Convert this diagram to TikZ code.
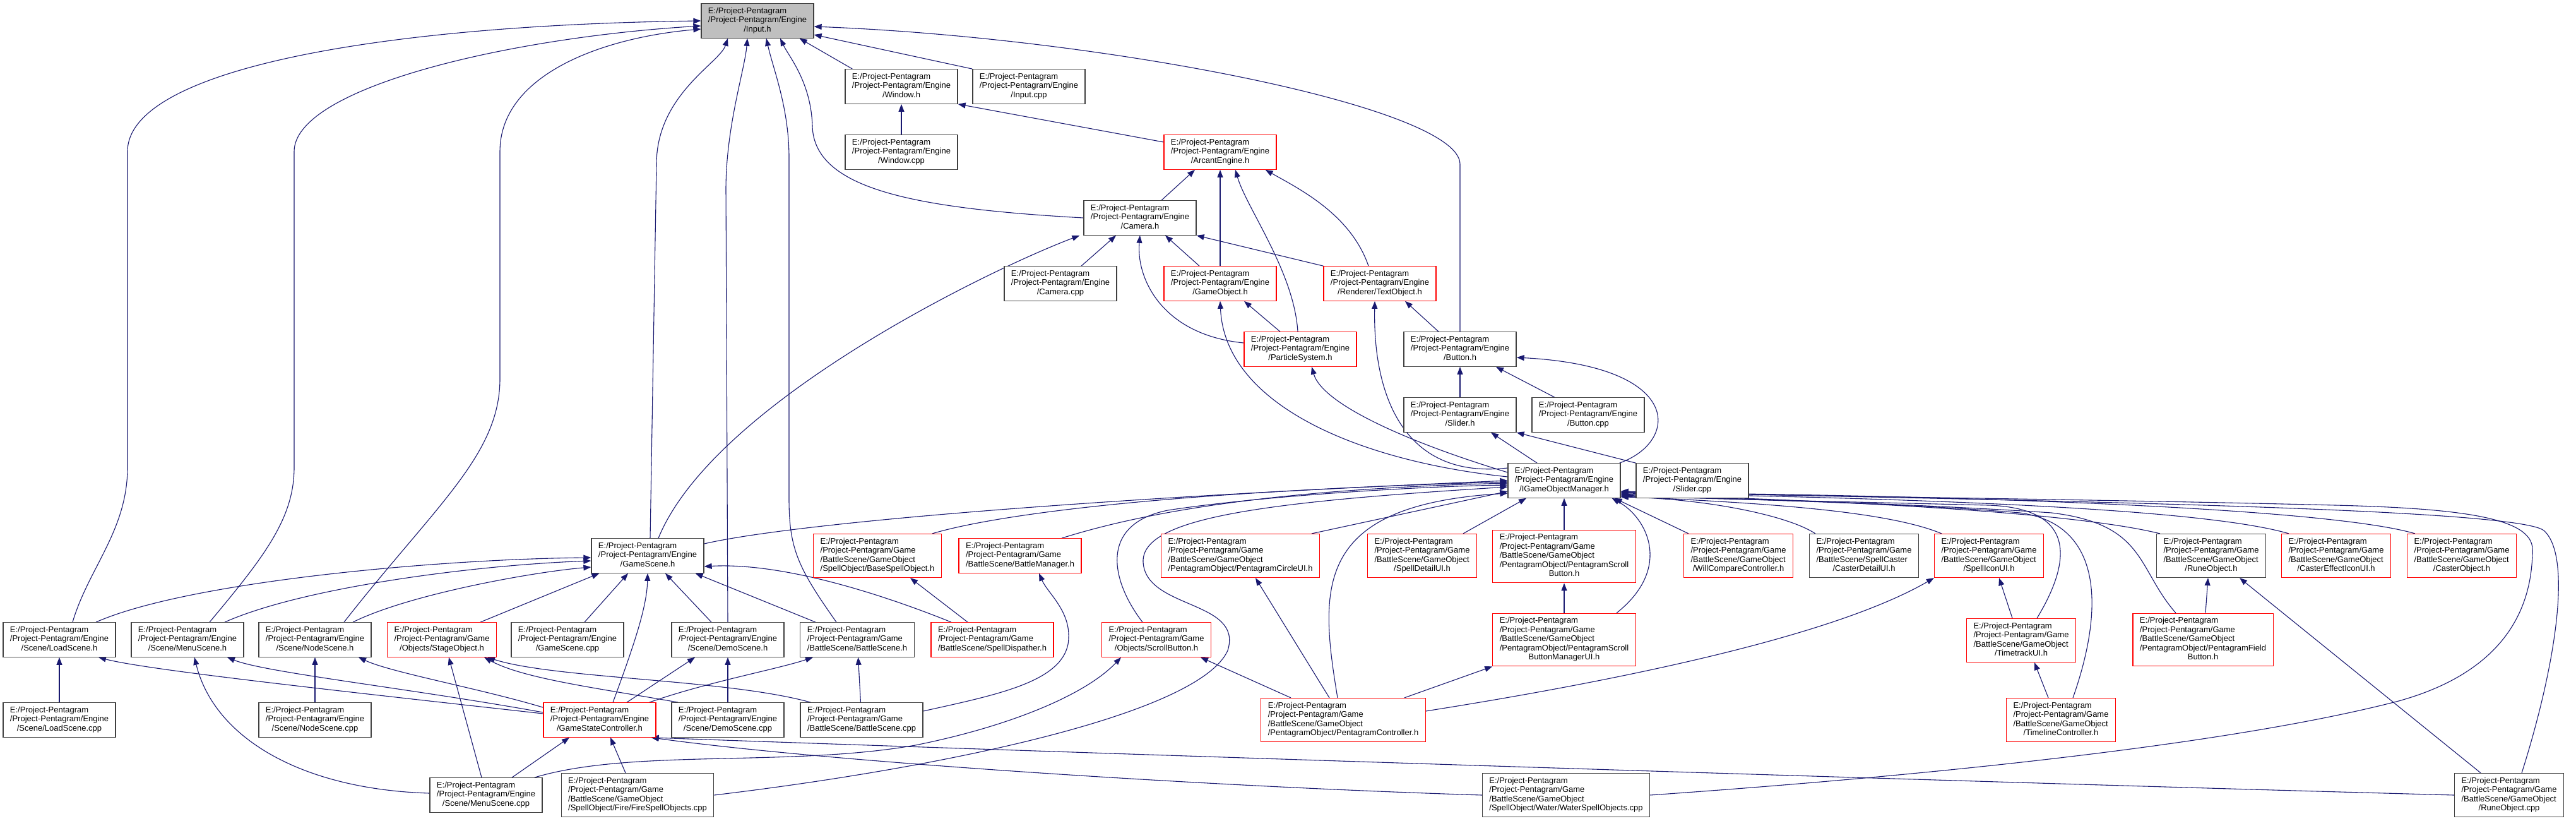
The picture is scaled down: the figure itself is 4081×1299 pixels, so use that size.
\documentclass[tikz,border=0pt]{standalone}
\usepackage{fontspec}
\setmainfont{Liberation Sans}
\usepackage{tikz}
\usetikzlibrary{arrows.meta, calc, backgrounds}
\definecolor{depblue}{RGB}{25,25,112}
\definecolor{boxred}{RGB}{255,0,0}
\definecolor{boxgray}{RGB}{191,191,191}
\definecolor{boxedge}{RGB}{64,64,64}
\newcommand{\boxfont}{\fontsize{13}{14.5}\selectfont}
\newcommand{\fpath}[2]{\begin{tabular}{@{}l@{}}#1\\\multicolumn{1}{@{}c@{}}{#2}\end{tabular}}
\newcommand{\enginefile}[1]{\fpath{E:/Project-Pentagram\\/Project-Pentagram/Engine}{#1}}
\newcommand{\gamefile}[2]{\fpath{E:/Project-Pentagram\\/Project-Pentagram/Game#1}{#2}}

\begin{document}
\begin{tikzpicture}[x=1pt, y=-1pt,
    file/.style={draw=boxedge, line width=1.2pt, fill=white, inner xsep=11pt, inner ysep=5.5pt, font=\boxfont},
    redfile/.style={file, draw=boxred},
    curfile/.style={file, fill=boxgray},
    dep/.style={draw=depblue, line width=1.1pt, -{Triangle[length=12pt,width=9pt]}}]
  \useasboundingbox (0,0) rectangle (4081,1299);

  % Engine files
  \node[curfile] (input) at (1200,33) {\enginefile{/Input.h}};
  \node[file] (window) at (1428,137) {\enginefile{/Window.h}};
  \node[file] (inputcpp) at (1630,137) {\enginefile{/Input.cpp}};
  \node[file] (windowcpp) at (1428,241) {\enginefile{/Window.cpp}};
  \node[redfile] (arcant) at (1933,241) {\enginefile{/ArcantEngine.h}};
  \node[file] (camera) at (1806,345) {\enginefile{/Camera.h}};
  \node[file] (cameracpp) at (1680,449) {\enginefile{/Camera.cpp}};
  \node[redfile] (gameobj) at (1933,449) {\enginefile{/GameObject.h}};
  \node[redfile] (textobj) at (2186,449) {\enginefile{/Renderer/TextObject.h}};
  \node[redfile] (particle) at (2060,553) {\enginefile{/ParticleSystem.h}};
  \node[file] (button) at (2313,553) {\enginefile{/Button.h}};
  \node[file] (slider) at (2313,657) {\enginefile{/Slider.h}};
  \node[file] (buttoncpp) at (2516,657) {\enginefile{/Button.cpp}};
  \node[file] (gom) at (2478,761) {\enginefile{/IGameObjectManager.h}};
  \node[file] (slidercpp) at (2681,761) {\enginefile{/Slider.cpp}};

  % Row of game headers
  \node[file] (gamescene) at (1026,880) {\enginefile{/GameScene.h}};
  \node[redfile] (basespell) at (1390,880) {\gamefile{\\/BattleScene/GameObject}{/SpellObject/BaseSpellObject.h}};
  \node[redfile] (battlemgr) at (1616,880) {\gamefile{}{/BattleScene/BattleManager.h}};
  \node[redfile] (circleui) at (1965,880) {\gamefile{\\/BattleScene/GameObject}{/PentagramObject/PentagramCircleUI.h}};
  \node[redfile] (spelldetail) at (2253,880) {\gamefile{\\/BattleScene/GameObject}{/SpellDetailUI.h}};
  \node[redfile] (scrollbtn) at (2478,881) {\gamefile{\\/BattleScene/GameObject\\/PentagramObject/PentagramScroll}{Button.h}};
  \node[redfile] (willcmp) at (2754,880) {\gamefile{\\/BattleScene/GameObject}{/WillCompareController.h}};
  \node[file] (casterdetail) at (2953,880) {\gamefile{\\/BattleScene/SpellCaster}{/CasterDetailUI.h}};
  \node[redfile] (spellicon) at (3151,880) {\gamefile{\\/BattleScene/GameObject}{/SpellIconUI.h}};
  \node[file] (runeobj) at (3503,880) {\gamefile{\\/BattleScene/GameObject}{/RuneObject.h}};
  \node[redfile] (castereffect) at (3701,880) {\gamefile{\\/BattleScene/GameObject}{/CasterEffectIconUI.h}};
  \node[redfile] (casterobj) at (3900,880) {\gamefile{\\/BattleScene/GameObject}{/CasterObject.h}};

  % Scenes
  \node[file] (loadscene) at (94,1013) {\enginefile{/Scene/LoadScene.h}};
  \node[file] (menuscene) at (297,1013) {\enginefile{/Scene/MenuScene.h}};
  \node[file] (nodescene) at (499,1013) {\enginefile{/Scene/NodeScene.h}};
  \node[redfile] (stageobj) at (700,1013) {\gamefile{}{/Objects/StageObject.h}};
  \node[file] (gamescenecpp) at (899,1013) {\enginefile{/GameScene.cpp}};
  \node[file] (demoscene) at (1153,1013) {\enginefile{/Scene/DemoScene.h}};
  \node[file] (battlescene) at (1358,1013) {\gamefile{}{/BattleScene/BattleScene.h}};
  \node[redfile] (spelldisp) at (1572,1013) {\gamefile{}{/BattleScene/SpellDispather.h}};
  \node[redfile] (scrollbutton) at (1832,1013) {\gamefile{}{/Objects/ScrollButton.h}};
  \node[redfile] (scrollmgr) at (2478,1013) {\gamefile{\\/BattleScene/GameObject\\/PentagramObject/PentagramScroll}{ButtonManagerUI.h}};
  \node[redfile] (timetrack) at (3202,1014) {\gamefile{\\/BattleScene/GameObject}{/TimetrackUI.h}};
  \node[redfile] (fieldbtn) at (3490,1013) {\gamefile{\\/BattleScene/GameObject\\/PentagramObject/PentagramField}{Button.h}};

  \node[file] (loadscenecpp) at (94,1140) {\enginefile{/Scene/LoadScene.cpp}};
  \node[file] (nodescenecpp) at (499,1140) {\enginefile{/Scene/NodeScene.cpp}};
  \node[redfile] (gsc) at (950,1140) {\enginefile{/GameStateController.h}};
  \node[file] (demoscenecpp) at (1153,1140) {\enginefile{/Scene/DemoScene.cpp}};
  \node[file] (battlescenecpp) at (1365,1140) {\gamefile{}{/BattleScene/BattleScene.cpp}};
  \node[redfile] (pentactrl) at (2128,1140) {\gamefile{\\/BattleScene/GameObject}{/PentagramObject/PentagramController.h}};
  \node[redfile] (timeline) at (3265,1140) {\gamefile{\\/BattleScene/GameObject}{/TimelineController.h}};

  % Bottom row
  \node[file] (menuscenecpp) at (770,1259) {\enginefile{/Scene/MenuScene.cpp}};
  \node[file] (firespell) at (1010,1259) {\gamefile{\\/BattleScene/GameObject}{/SpellObject/Fire/FireSpellObjects.cpp}};
  \node[file] (waterspell) at (2481,1259) {\gamefile{\\/BattleScene/GameObject}{/SpellObject/Water/WaterSpellObjects.cpp}};
  \node[file] (runeobjcpp) at (3975,1259) {\gamefile{\\/BattleScene/GameObject}{/RuneObject.cpp}};

  \begin{scope}[on background layer]
  % Input.h
  \draw[dep] ($(loadscene.north)+(21,0)$) .. controls (140,900) and (202,840) .. (202,740) -- (202,240) .. controls (202,110) and (600,40) .. (input.west);
  \draw[dep] ($(menuscene.north)+(35,0)$) .. controls (420,880) and (466,820) .. (466,740) -- (466,240) .. controls (466,140) and (800,60) .. ($(input.west)+(0,8)$);
  \draw[dep] ($(nodescene.north)+(46,0)$) .. controls (690,800) and (792,720) .. (792,600) -- (792,240) .. controls (792,120) and (950,60) .. ($(input.west)+(0,13)$);
  \draw[dep] ($(gamescene.north)+(4,0)$) -- (1040,260) .. controls (1040,150) and (1140,100) .. ($(input.south)+(-47,0)$);
  \draw[dep] (demoscene.north) -- (1150,300) .. controls (1150,200) and (1180,110) .. ($(input.south)+(-16,0)$);
  \draw[dep] ($(battlescene.north)+(-33,0)$) .. controls (1265,900) and (1250,870) .. (1250,790) -- (1250,250) .. controls (1250,170) and (1225,110) .. ($(input.south)+(14,0)$);
  \draw[dep] (camera.west) .. controls (1450,330) and (1290,300) .. (1287,200) .. controls (1285,130) and (1250,90) .. ($(input.south)+(36,0)$);
  \draw[dep] ($(window.north west)+(12,0)$) -- ($(input.south east)+(-23,0)$);
  \draw[dep] (inputcpp.north west) -- ($(input.east)+(0,22)$);
  \draw[dep] (button.north) -- (2313,260) .. controls (2313,170) and (1750,60) .. ($(input.east)+(0,9)$);

  % Window.h, ArcantEngine.h
  \draw[dep] (windowcpp) -- (window);
  \draw[dep] ($(arcant.west)+(0,-16)$) -- (window.south east);
  \draw[dep] ($(camera.north)+(34,0)$) -- ($(arcant.south)+(-40,0)$);
  \draw[dep] (gameobj) -- (arcant);
  \draw[dep] ($(particle.north)+(-4,0)$) .. controls (2050,430) and (1975,330) .. ($(arcant.south)+(24,0)$);
  \draw[dep] ($(textobj.north)+(-18,0)$) .. controls (2140,340) and (2060,300) .. ($(arcant.south east)+(-18,0)$);

  % Camera.h
  \draw[dep] ($(cameracpp.north)+(33,0)$) -- ($(camera.south)+(-38,0)$);
  \draw[dep] ($(gameobj.north)+(-33,0)$) -- ($(camera.south)+(40,0)$);
  \draw[dep] (textobj.north west) -- (camera.south east);
  \draw[dep] ($(particle.west)+(0,-10)$) .. controls (1840,530) and (1800,440) .. (camera.south);
  \draw[dep] ($(gamescene.north)+(17,0)$) .. controls (1130,640) and (1560,430) .. ($(camera.south west)+(-6,0)$);

  % GameObject.h, ParticleSystem.h, TextObject.h
  \draw[dep] ($(particle.north)+(-32,0)$) -- ($(gameobj.south)+(38,0)$);
  \draw[dep] ($(gom.west)+(0,-6)$) .. controls (2150,730) and (1940,640) .. (gameobj.south);
  \draw[dep] ($(gom.west)+(0,-13)$) .. controls (2230,700) and (2095,640) .. ($(particle.south)+(18,0)$);
  \draw[dep] ($(gom.west)+(0,-20)$) .. controls (2220,760) and (2175,620) .. ($(textobj.south)+(-8,0)$);

  % Button.h, Slider.h
  \draw[dep] ($(button.north)+(-34,0)$) -- ($(textobj.south)+(40,0)$);
  \draw[dep] (slider) -- (button);
  \draw[dep] ($(buttoncpp.north)+(-53,0)$) -- ($(button.south)+(57,0)$);
  \draw[dep] ($(gom.north east)+(-2,0)$) .. controls (2660,700) and (2670,580) .. ($(button.east)+(0,13)$);
  \draw[dep] ($(gom.north)+(-43,0)$) -- ($(slider.south)+(49,0)$);
  \draw[dep] (slidercpp.north west) -- (slider.south east);

  % GameScene.h
  \draw[dep] ($(loadscene.north)+(58,0)$) .. controls (300,920) and (700,885) .. ($(gamescene.west)+(0,3)$);
  \draw[dep] ($(menuscene.north)+(59,0)$) .. controls (480,930) and (750,895) .. ($(gamescene.west)+(0,8)$);
  \draw[dep] ($(nodescene.north)+(60,0)$) .. controls (650,940) and (850,905) .. ($(gamescene.west)+(0,18)$);
  \draw[dep] ($(stageobj.north)+(61,0)$) -- ($(gamescene.south west)+(13,0)$);
  \draw[dep] ($(gamescenecpp.north)+(27,0)$) -- ($(gamescene.south)+(-31,0)$);
  \draw[dep] ($(demoscene.north)+(-26,0)$) -- ($(gamescene.south)+(28,0)$);
  \draw[dep] ($(battlescene.north)+(-66,0)$) -- ($(gamescene.south east)+(-14,0)$);
  \draw[dep] ($(gsc.north)+(21,0)$) .. controls (1005,1020) and (1025,960) .. (gamescene.south);
  \draw[dep] ($(spelldisp.north)+(-65,0)$) .. controls (1420,950) and (1250,890) .. ($(gamescene.east)+(0,17)$);

  % IGameObjectManager.h, left side
  \draw[dep] ($(gamescene.east)+(0,-19)$) .. controls (1250,830) and (1700,790) .. (gom.west);
  \draw[dep] ($(basespell.north)+(87,0)$) .. controls (1560,820) and (1800,780) .. ($(gom.west)+(0,2)$);
  \draw[dep] ($(battlemgr.north)+(66,0)$) .. controls (1800,815) and (2000,775) .. ($(gom.west)+(0,4)$);
  \draw[dep] ($(scrollbutton.north)+(-22,0)$) .. controls (1760,920) and (1740,830) .. (1850,808) .. controls (2000,785) and (2250,770) .. ($(gom.west)+(0,7)$);
  \draw[dep] (firespell.east) .. controls (1500,1215) and (1900,1130) .. (1945,1030) .. controls (1970,950) and (1815,965) .. (1811,890) .. controls (1808,820) and (2000,795) .. ($(gom.west)+(0,10)$);
  \draw[dep] ($(circleui.north)+(113,0)$) -- ($(gom.west)+(0,17)$);
  \draw[dep] ($(pentactrl.north)+(-9,0)$) .. controls (2090,930) and (2080,800) .. ($(gom.west)+(0,20)$);
  \draw[dep] ($(spelldetail.north)+(65,0)$) -- ($(gom.south)+(-60,0)$);
  \draw[dep] (scrollbtn) -- (gom);
  \draw[dep] ($(scrollmgr.north)+(83,0)$) .. controls (2650,900) and (2610,820) .. ($(gom.south east)+(-14,0)$);
  \draw[dep] ($(willcmp.north west)+(8,0)$) -- ($(gom.south east)+(-10,0)$);

  % IGameObjectManager.h, right side
  \draw[dep] ($(casterdetail.north west)+(10,0)$) .. controls (2830,815) and (2700,790) .. ($(gom.south east)+(0,-2)$);
  \draw[dep] ($(spellicon.north west)+(12,0)$) .. controls (2980,805) and (2750,795) .. ($(gom.south east)+(0,-3)$);
  \draw[dep] ($(timetrack.north)+(25,0)$) .. controls (3275,900) and (3300,805) .. (3150,800) .. controls (2950,795) and (2700,790) .. ($(gom.south east)+(0,-4)$);
  \draw[dep] ($(timeline.north)+(19,0)$) .. controls (3335,960) and (3330,830) .. (3200,812) .. controls (3000,795) and (2700,790) .. ($(gom.south east)+(0,-5)$);
  \draw[dep] ($(runeobj.north west)+(6,0)$) .. controls (3300,815) and (3000,795) .. ($(gom.south east)+(0,-6)$);
  \draw[dep] ($(fieldbtn.north)+(-43,0)$) .. controls (3385,900) and (3400,830) .. (3250,812) .. controls (3000,795) and (2700,790) .. ($(gom.south east)+(0,-7)$);
  \draw[dep] ($(castereffect.north west)+(12,0)$) .. controls (3500,808) and (3100,790) .. ($(gom.south east)+(0,-8)$);
  \draw[dep] ($(casterobj.north west)+(13,0)$) .. controls (3700,808) and (3200,785) .. ($(gom.south east)+(0,-9)$);
  \draw[dep] (waterspell.east) .. controls (3100,1225) and (3550,1175) .. (3800,1110) .. controls (3980,1060) and (4012,950) .. (4012,870) .. controls (4012,820) and (3900,805) .. (3700,800) .. controls (3300,790) and (2800,785) .. ($(gom.south east)+(0,-10)$);
  \draw[dep] ($(runeobjcpp.north)+(20,0)$) .. controls (4050,1050) and (4075,880) .. (4030,840) .. controls (3980,800) and (3000,790) .. ($(gom.south east)+(0,-11)$);

  % Game headers
  \draw[dep] ($(spelldisp.north)+(-39,0)$) -- ($(basespell.south)+(52,0)$);
  \draw[dep] ($(battlescenecpp.east)+(0,-14)$) .. controls (1580,1100) and (1680,1080) .. (1692,1020) .. controls (1700,970) and (1660,940) .. ($(battlemgr.south)+(30,0)$);
  \draw[dep] (battlescenecpp) -- (battlescene);
  \draw[dep] ($(battlescenecpp.north west)+(17,0)$) .. controls (1150,1075) and (880,1075) .. ($(stageobj.south east)+(-15,0)$);
  \draw[dep] ($(demoscenecpp.north west)+(11,0)$) .. controls (950,1090) and (830,1075) .. ($(stageobj.south east)+(-20,0)$);
  \draw[dep] ($(menuscenecpp.north)+(-7,0)$) -- ($(stageobj.south)+(11,0)$);
  \draw[dep] ($(menuscenecpp.west)+(0,-3)$) .. controls (480,1250) and (340,1170) .. ($(menuscene.south)+(11,0)$);
  \draw[dep] ($(menuscenecpp.north)+(41,0)$) -- ($(gsc.south)+(-48,0)$);
  \draw[dep] ($(menuscenecpp.north east)+(-13,0)$) .. controls (1000,1185) and (1250,1215) .. (1450,1180) .. controls (1600,1150) and (1720,1100) .. ($(scrollbutton.south)+(-56,0)$);
  \draw[dep] ($(firespell.north)+(-19,0)$) -- ($(gsc.south)+(17,0)$);
  \draw[dep] (waterspell.west) .. controls (1900,1245) and (1300,1205) .. ($(gsc.south east)+(-8,0)$);
  \draw[dep] (runeobjcpp.west) .. controls (3000,1235) and (1500,1185) .. ($(gsc.south east)+(-8,0)$);

  % GameStateController.h
  \draw[dep] ($(gsc.west)+(0,-10)$) .. controls (500,1090) and (230,1060) .. ($(loadscene.south)+(62,0)$);
  \draw[dep] ($(gsc.west)+(0,-12)$) .. controls (650,1090) and (420,1065) .. ($(menuscene.south)+(63,0)$);
  \draw[dep] ($(gsc.north west)+(0,8)$) .. controls (760,1090) and (620,1065) .. ($(nodescene.south)+(69,0)$);
  \draw[dep] ($(gsc.north)+(43,0)$) -- ($(demoscene.south)+(-52,0)$);
  \draw[dep] ($(gsc.north east)+(-11,0)$) .. controls (1120,1080) and (1230,1060) .. ($(battlescene.south)+(-70,0)$);
  \draw[dep] (loadscenecpp) -- (loadscene);
  \draw[dep] (nodescenecpp) -- (nodescene);
  \draw[dep] (demoscenecpp) -- (demoscene);

  % PentagramController.h and the time line
  \draw[dep] ($(pentactrl.north)+(-83,0)$) -- ($(scrollbutton.south)+(70,0)$);
  \draw[dep] ($(pentactrl.north)+(-22,0)$) -- ($(circleui.south)+(24,0)$);
  \draw[dep] ($(pentactrl.north east)+(-34,0)$) -- (scrollmgr.south west);
  \draw[dep] (scrollmgr) -- (scrollbtn);
  \draw[dep] ($(pentactrl.east)+(0,-14)$) .. controls (2550,1080) and (2900,1010) .. (spellicon.south west);
  \draw[dep] ($(timetrack.north)+(-14,0)$) -- ($(spellicon.south)+(16,0)$);
  \draw[dep] ($(timeline.north)+(-20,0)$) -- ($(timetrack.south)+(21,0)$);
  \draw[dep] ($(fieldbtn.north)+(4,0)$) -- ($(runeobj.south)+(-5,0)$);
  \draw[dep] ($(runeobjcpp.north)+(-45,0)$) -- ($(runeobj.south)+(45,0)$);
  \end{scope}
\end{tikzpicture}
\end{document}
